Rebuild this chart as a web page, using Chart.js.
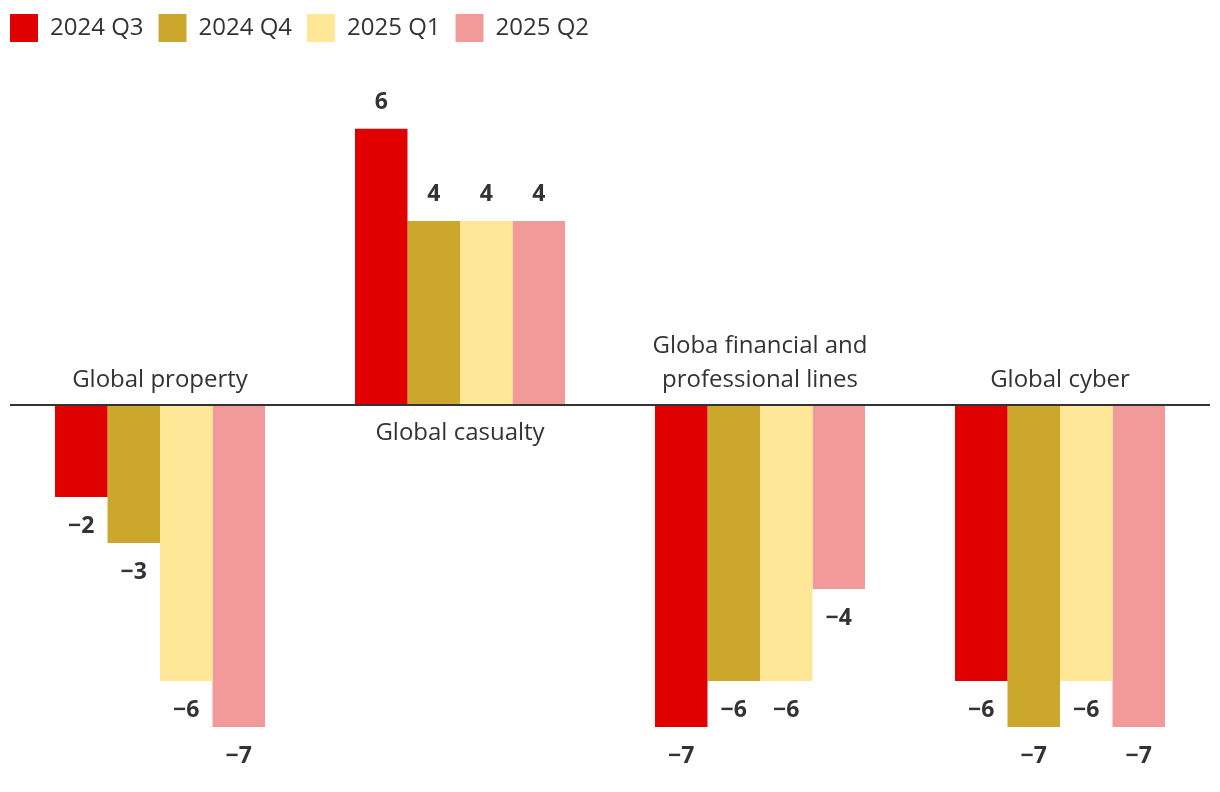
<!DOCTYPE html>
<html>
<head>
<meta charset="utf-8">
<script src="https://cdn.jsdelivr.net/npm/chart.js@4.4.1/dist/chart.umd.min.js"></script>
<style>
  html, body { margin: 0; padding: 0; background: #fff; }
  #wrap { width: 1220px; height: 792px; }
</style>
</head>
<body>
<div id="wrap"><canvas id="chart"></canvas></div>
<script>
var categories = [
  ["Global property"],
  ["Global casualty"],
  ["Globa financial and", "professional lines"],
  ["Global cyber"]
];
var seriesNames = ["2024 Q3", "2024 Q4", "2025 Q1", "2025 Q2"];
var q3_2024 = [-2, 6, -7, -6];
var q4_2024 = [-3, 4, -6, -7];
var q1_2025 = [-6, 4, -6, -6];
var q2_2025 = [-7, 4, -4, -7];
var seriesColors = ["#e00000", "#cba82c", "#fee797", "#f29a9a"];

var textColor = "#333333";
var fontFamily = "'Open Sans', 'Noto Sans', sans-serif";

function fmt(v) {
  return v < 0 ? "\u2212" + Math.abs(v) : String(v);
}

// value labels on bar ends, category names next to the zero line
var labelPlugin = {
  id: "labels",
  afterDatasetsDraw: function(chart) {
    var ctx = chart.ctx;
    var y = chart.scales.y;
    var x = chart.scales.x;
    var zero = y.getPixelForValue(0);
    ctx.save();

    // zero line
    ctx.strokeStyle = textColor;
    ctx.lineWidth = 2;
    ctx.beginPath();
    ctx.moveTo(chart.chartArea.left, zero);
    ctx.lineTo(chart.chartArea.right, zero);
    ctx.stroke();

    ctx.fillStyle = textColor;
    ctx.textAlign = "center";
    ctx.textBaseline = "middle";

    ctx.font = "bold 23px " + fontFamily;
    chart.data.datasets.forEach(function(ds, di) {
      var meta = chart.getDatasetMeta(di);
      meta.data.forEach(function(bar, i) {
        var v = ds.data[i];
        var ty = v >= 0 ? bar.y - 26 : bar.y + 29;
        ctx.fillText(fmt(v), bar.x, ty);
      });
    });

    ctx.font = "24px " + fontFamily;
    categories.forEach(function(lines, i) {
      var cx = x.getPixelForValue(i);
      var up = q3_2024[i] < 0;
      var lh = 34;
      lines.forEach(function(line, li) {
        var ty;
        if (up) {
          ty = zero - 25 - (lines.length - 1 - li) * lh;
        } else {
          ty = zero + 28 + li * lh;
        }
        ctx.fillText(line, cx, ty);
      });
    });
    ctx.restore();
  }
};

var ctx = document.getElementById("chart");
var myChart = new Chart(ctx, {
  type: "bar",
  data: {
    labels: categories,
    datasets: [
      { label: seriesNames[0], data: q3_2024, backgroundColor: seriesColors[0] },
      { label: seriesNames[1], data: q4_2024, backgroundColor: seriesColors[1] },
      { label: seriesNames[2], data: q1_2025, backgroundColor: seriesColors[2] },
      { label: seriesNames[3], data: q2_2025, backgroundColor: seriesColors[3] }
    ]
  },
  options: {
    responsive: true,
    maintainAspectRatio: false,
    animation: false,
    layout: { padding: { top: -1, left: -5, right: 10, bottom: 0 } },
    datasets: {
      bar: { categoryPercentage: 0.7, barPercentage: 1.0, borderWidth: 0 }
    },
    scales: {
      x: { display: false },
      y: {
        display: true,
        min: -8.41,
        max: 7.67,
        ticks: { display: false },
        grid: { display: false },
        border: { display: false },
        afterFit: function(scale) { scale.width = 15; }
      }
    },
    plugins: {
      legend: {
        position: "top",
        align: "start",
        labels: {
          boxWidth: 28,
          boxHeight: 28,
          padding: 15,
          color: textColor,
          font: { family: fontFamily, size: 24 }
        }
      },
      tooltip: { enabled: false }
    }
  },
  plugins: [labelPlugin]
});
</script>
</body>
</html>
